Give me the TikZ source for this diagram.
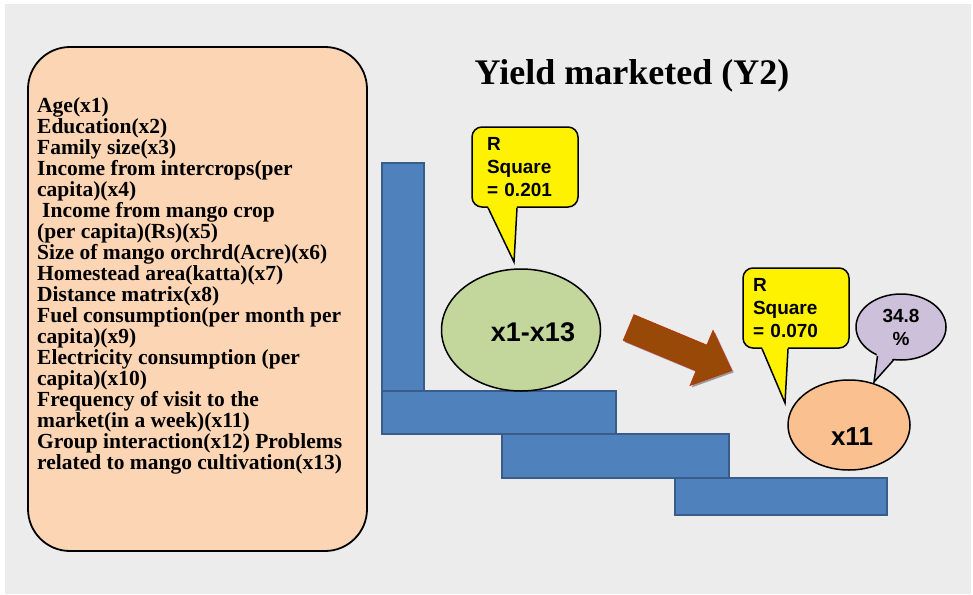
\documentclass[tikz,border=0pt]{standalone}
\usepackage{fontspec}
\setmainfont{Liberation Serif}
\newfontfamily\labelfont{Liberation Sans}
\usetikzlibrary{shapes.geometric}

\definecolor{paper}{HTML}{ECECEC}
\definecolor{peach}{HTML}{FCD5B5}
\definecolor{stepblue}{HTML}{4F81BD}
\definecolor{stepedge}{HTML}{385D8A}
\definecolor{olive}{HTML}{C3D69B}
\definecolor{apricot}{HTML}{FAC090}
\definecolor{lilac}{HTML}{CCC0DA}
\definecolor{rust}{HTML}{984807}

\tikzset{
  bar/.style={fill=stepblue, draw=stepedge, line width=1.2pt},
  listitem/.style={anchor=base west, inner sep=0pt, font=\fontsize{21.5}{21.5}\selectfont\bfseries},
  ball/.style={ellipse, draw, line width=1.5pt, inner sep=0pt},
  calltext/.style={font=\labelfont\bfseries\fontsize{19}{23}\selectfont},
  bigtext/.style={font=\labelfont\bfseries\fontsize{27}{27}\selectfont},
  callbox/.style={draw, line width=1.5pt, fill=yellow, rounded corners=10pt,
    minimum width=106pt, minimum height=80pt, align=left, calltext},
  tail/.style={line width=1.5pt, line join=miter},
}
\def\arrowpath{(633.9,314.6) -- (706.8,345.0) -- (713.0,330.2) -- (731.9,370.6)
  -- (689.9,385.6) -- (696.0,370.8) -- (623.1,340.4) -- cycle}

\begin{document}
\begin{tikzpicture}[x=1pt,y=-1pt]
\useasboundingbox (0,0) rectangle (973,594);
\fill[paper] (5,4) rectangle (971,594);

% list of variables
\draw[fill=peach, line width=1.8pt, rounded corners=42pt] (28,47) rectangle (367,551);
\foreach \txt [count=\i] in {{Age(x1)}, {Education(x2)}, {Family size(x3)},
    {Income from intercrops(per}, {capita)(x4)}, {\hspace{5pt}Income from mango crop},
    {(per capita)(Rs)(x5)}, {Size of mango orchrd(Acre)(x6)}, {Homestead area(katta)(x7)},
    {Distance matrix(x8)}, {Fuel consumption(per month per}, {capita)(x9)},
    {Electricity consumption (per}, {capita)(x10)}, {Frequency of visit to the},
    {market(in a week)(x11)}, {Group interaction(x12) Problems},
    {related to mango cultivation(x13)}}
  \node[listitem] (item\i) at (37,{112+21*(\i-1)}) {\txt};

\node[font=\fontsize{36}{36}\selectfont\bfseries] (title) at (632,76) {Yield marketed (Y2)};

% steps
\draw[bar] (382,163) rectangle (424,391);
\draw[bar] (382,391) rectangle (616,434);
\draw[bar] (502,434) rectangle (729,478);
\draw[bar] (675,478) rectangle (887,515);

% all variables
\node[ball, fill=olive, minimum width=159pt, minimum height=122pt] (allvars) at (521,330) {};
\node[bigtext] (allvarstext) at (533,332) {x1-x13};

\node[callbox, text width=76pt] (rsqone) at (525,167) {R\\Square\\= 0.201};
\fill[yellow] (488.5,205) -- (516.5,205) -- (517,208) -- (514,262) -- (488,208) -- cycle;
\draw[tail] (488,207.7) -- (514,262) -- (517,207.7);

% arrow
\fill[black!40, shift={(1.8,1.8)}] \arrowpath;
\draw[fill=rust, draw=red!45!rust, line width=0.5pt] \arrowpath;

% single variable
\node[callbox, text width=86pt] (rsqtwo) at (796,308) {R\\Square\\= 0.070};
\fill[yellow] (762.5,346) -- (787.5,346) -- (788,349) -- (785,403) -- (762,349) -- cycle;
\draw[tail] (762,348.7) -- (785,403) -- (788,348.7);

\node[ball, fill=lilac, minimum width=90pt, minimum height=66pt, align=center, calltext] (share) at (901,327) {34.8\\\%};
\fill[lilac] (877,352) -- (895,356) -- (874,382) -- cycle;
\draw[tail] (877.5,356) -- (874,382) -- (894,359.5);

\node[ball, fill=apricot, minimum width=122pt, minimum height=90pt] (xeleven) at (849,425) {};
\node[bigtext, font=\labelfont\bfseries\fontsize{26}{26}\selectfont] (xeleventext) at (852,437) {x11};
\end{tikzpicture}
\end{document}
